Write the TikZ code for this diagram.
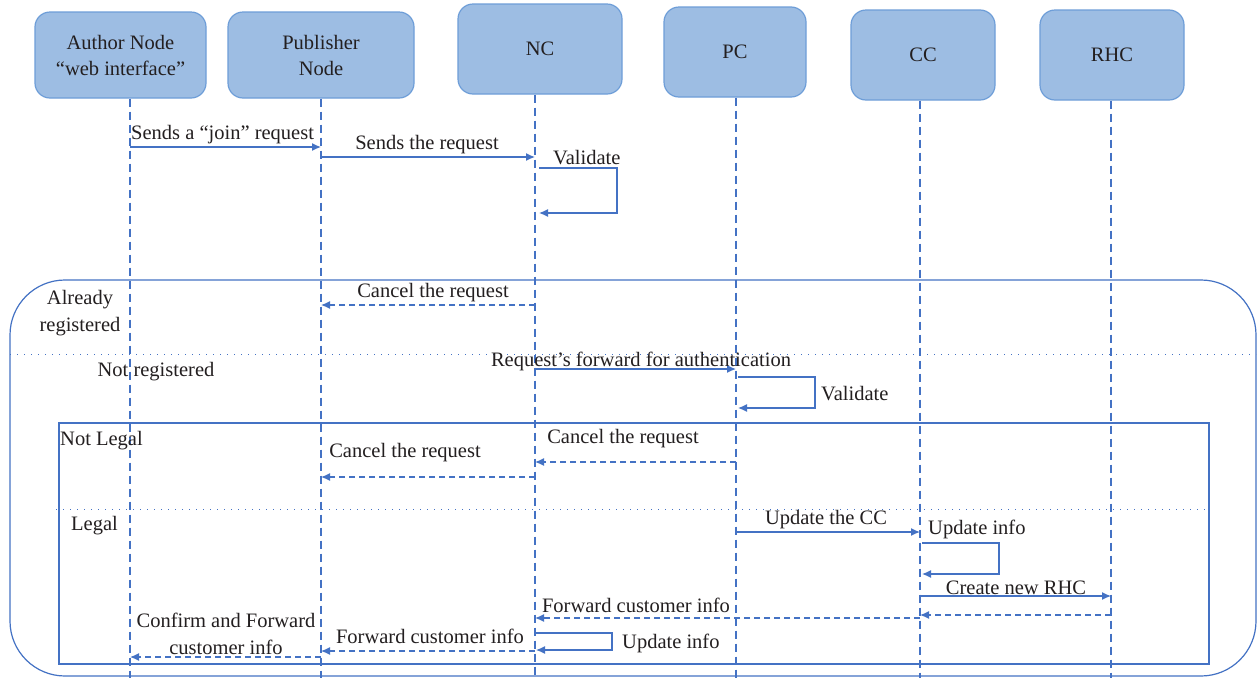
\documentclass[tikz,border=0pt]{standalone}
\usepackage{fontspec}
\setmainfont{Liberation Serif}
\usetikzlibrary{arrows.meta}
\definecolor{boxfill}{HTML}{9DBDE3}
\definecolor{boxline}{HTML}{6E9ED8}
\definecolor{seqblue}{HTML}{4472C4}
\definecolor{ink}{HTML}{231F20}

\begin{document}
\begin{tikzpicture}[x=1pt,y=-1pt,
  actor/.style={draw=boxline, fill=boxfill, line width=1.2pt, rounded corners=15pt,
    text=ink, font=\fontsize{20.5}{26}\selectfont, align=center, inner sep=0pt},
  life/.style={draw=seqblue, line width=1.1pt, dash pattern=on 8pt off 5pt},
  msg/.style={draw=seqblue, line width=1.3pt, -{Latex[length=9pt,width=8pt]}},
  reply/.style={msg, dash pattern=on 6pt off 4pt},
  lbl/.style={text=ink, font=\fontsize{20.5}{27}\selectfont, inner sep=0pt, align=center, yshift=-2pt},
  frame/.style={draw=seqblue, line width=1.2pt},
  sep/.style={draw=seqblue, line width=1pt, dash pattern=on 1.4pt off 5.6pt}]

\useasboundingbox (0,0) rectangle (1258,678);
\fill[white] (0,0) rectangle (1258,678);

% participants
\node[actor, minimum width=171pt, minimum height=86pt] (author) at (120.5,55) {Author Node\\“web interface”};
\node[actor, minimum width=186pt, minimum height=86pt] (pub) at (321,55) {Publisher\\Node};
\node[actor, minimum width=164pt, minimum height=90pt] (nc) at (540,49) {NC};
\node[actor, minimum width=142pt, minimum height=90pt] (pc) at (735,52) {PC};
\node[actor, minimum width=144pt, minimum height=90pt] (cc) at (923,55) {CC};
\node[actor, minimum width=144pt, minimum height=90pt] (rhc) at (1112,55) {RHC};

% lifeline feet
\coordinate (la) at (130,678);
\coordinate (lp) at (321,678);
\coordinate (ln) at (535,678);
\coordinate (lc) at (736,678);
\coordinate (lcc) at (920,678);
\coordinate (lr) at (1111,678);

\draw[life] (author.south -| la) -- (la);
\draw[life] (pub.south -| lp) -- (lp);
\draw[life] (nc.south -| ln) -- (ln);
\draw[life] (pc.south -| lc) -- (lc);
\draw[life] (cc.south -| lcc) -- (lcc);
\draw[life] (rhc.south -| lr) -- (lr);

% outer alternative frame
\draw[frame, rounded corners=55pt] (10,280) rectangle (1256,676);
\draw[sep] (10,354) -- (1256,354);
% inner alternative frame
\draw[frame] (59,423) rectangle (1209,664);
\draw[sep] (56,509) -- (1209,509);

% join request
\draw[msg] (la |- 0,147) -- (lp |- 0,147);
\node[lbl, anchor=west] (t1) at (131,133) {Sends a “join” request};
\draw[msg] (lp |- 0,157) -- (ln |- 0,157);
\node[lbl] (t2) at (427,143) {Sends the request};
\draw[msg] ([xshift=4pt]ln |- 0,168) -| (617,213) -- ([xshift=4pt]ln |- 0,213);
\node[lbl, anchor=west] (t3) at (553,156) {Validate};

% already registered
\node[lbl] (g1) at (80,311) {Already\\registered};
\draw[reply] (ln |- 0,305) -- (lp |- 0,305);
\node[lbl] (t4) at (433,291) {Cancel the request};

% not registered
\node[lbl] (g2) at (156,370) {Not registered};
\draw[msg] (ln |- 0,369) -- (lc |- 0,369);
\node[lbl] (t5) at (641,359) {Request’s forward for authentication};
\draw[msg] ([xshift=2pt]lc |- 0,377) -| (815,408) -- ([xshift=2pt]lc |- 0,408);
\node[lbl, anchor=west] (t6) at (821,392) {Validate};

% not legal
\node[lbl, anchor=west] (g3) at (60,439) {Not Legal};
\draw[reply] (lc |- 0,462) -- (ln |- 0,462);
\node[lbl] (t7) at (623,437) {Cancel the request};
\draw[reply] (ln |- 0,477) -- (lp |- 0,477);
\node[lbl] (t8) at (405,451) {Cancel the request};

% legal
\node[lbl, anchor=west] (g4) at (71,524) {Legal};
\draw[msg] (lc |- 0,532) -- (lcc |- 0,532);
\node[lbl] (t9) at (826,518) {Update the CC};
\draw[msg] ([xshift=2pt]lcc |- 0,543) -| (999,574) -- ([xshift=2pt]lcc |- 0,574);
\node[lbl, anchor=west] (t10) at (928,527) {Update info};
\draw[msg] (lcc |- 0,596) -- (lr |- 0,596);
\node[lbl] (t11) at (1016,586) {Create new RHC};
\draw[reply] (lr |- 0,615) -- (lcc |- 0,615);
\draw[reply] (lcc |- 0,618) -- (ln |- 0,618);
\node[lbl] (t12) at (636,603) {Forward customer info};
\draw[msg] ([xshift=1pt]ln |- 0,633) -| (612,650) -- ([xshift=1pt]ln |- 0,650);
\node[lbl, anchor=west] (t13) at (622,641) {Update info};
\draw[reply] (ln |- 0,651) -- (lp |- 0,651);
\node[lbl] (t14) at (430,634) {Forward customer info};
\draw[reply] (lp |- 0,657) -- (la |- 0,657);
\node[lbl] (t15) at (226,632) {Confirm and Forward\\customer info};

\end{tikzpicture}
\end{document}
